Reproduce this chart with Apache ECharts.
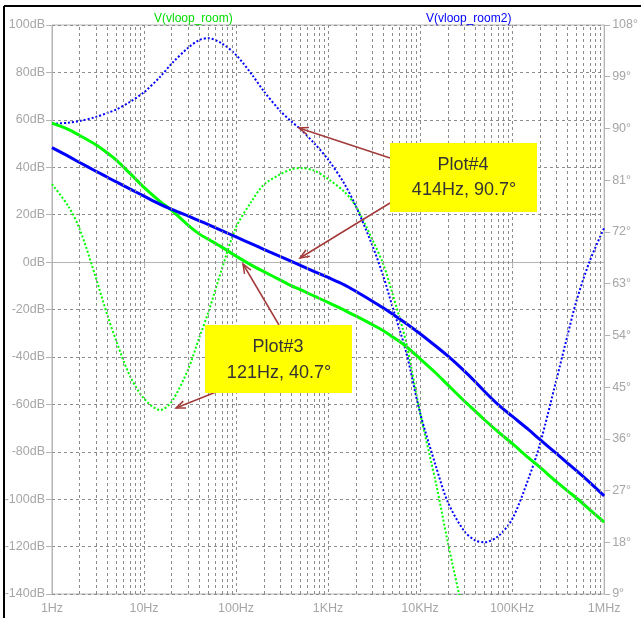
<!DOCTYPE html>
<html><head><meta charset="utf-8">
<script src="https://cdn.jsdelivr.net/npm/echarts@6/dist/echarts.min.js"></script>
<style>html,body{margin:0;padding:0;background:#fff}#c{width:641px;height:618px}</style>
</head><body><div id="c"></div>
<script>
// Frequencies (Hz)
const freqs = [1,1.5,2,3,4,5,7,10,15,20,30,40,50,70,100,150,200,300,400,500,700,
  1e3,1.5e3,2e3,3e3,4e3,5e3,7e3,1e4,1.5e4,2e4,3e4,4e4,5e4,7e4,1e5,1.5e5,2e5,3e5,4e5,5e5,7e5,1e6];
// V(vloop_room) magnitude (dB) - green solid
const magRoom = [58.6,56,53.4,49.5,46,43,37.5,31.5,25.5,21.8,15.6,11.8,9.6,6.3,2.5,-1.5,-4,-7.5,-10,-11.6,-14.3,
  -17,-20.3,-22.7,-26.3,-29,-31.5,-35.5,-40.8,-47,-51.8,-58.5,-63,-66.5,-71.5,-76.5,-82.5,-86.5,-92.5,-96.5,-99.5,-104.5,-109.7];
// V(vloop_room2) magnitude (dB) - blue solid
const magRoom2 = [48.3,44.7,42,38.3,35.8,33.8,30.9,27.8,24.3,22.2,19.5,17.4,15.8,13.3,10.6,7.6,5.4,2.4,0.3,-1.4,-3.9,
  -6.5,-9.6,-12.3,-16.4,-19.4,-21.9,-25.8,-30.2,-35.6,-39.6,-45.8,-50.6,-54.5,-60,-65,-70.6,-74.8,-80.6,-84.8,-88,-93,-98.6];
// V(vloop_room) phase (deg) - green dotted
const phaseRoom = [80.3,76.5,72.5,64,57.5,53,47,43,41,42.5,48,53.7,58,65.5,72.8,77.5,80.2,82,82.9,83.1,82.7,
  81.2,79,76.5,70.8,66.3,61.3,53,40.5,28,18,5,-5,-12,-22,-30,-38,-42,-48,-52,-55,-58,-60];
// V(vloop_room2) phase (deg) - blue dotted
const phaseRoom2 = [90.8,91.0,91.3,92.0,92.7,93.3,94.6,96.3,99,101.3,104,105.4,105.7,104.8,102.8,99.3,96.5,93.1,91.2,89.9,87.5,
  84.6,80.4,76.5,69.8,64.2,59,51.3,40.5,31,25,20,18.3,18,19,22,29,35,46,54,60,67,72.7];

const freqTickLabels = ['1Hz','10Hz','100Hz','1KHz','10KHz','100KHz','1MHz'];
const dbRange = [-140, 100, 20];
const degRange = [9, 108, 9];
const seriesNames = ['V(vloop_room)', 'V(vloop_room2)'];

// minor grid frequencies 2..9 per decade
const minorFreqs = [];
for (let d = 0; d < 6; d++) for (let m = 2; m <= 9; m++) minorFreqs.push(m * Math.pow(10, d));

const GREEN = '#00ff00', BLUE = '#0000ff', GRAY = '#a6a6a6', GRID = '#8c8c8c';
const FONT = 'Liberation Sans, Arial, sans-serif';
const pairs = arr => freqs.map((f, i) => [f, arr[i]]);

const chart = echarts.init(document.getElementById('c'), null, {renderer: 'canvas'});

const arrowColor = '#a33a3a';
function arrow(x1, y1, x2, y2) {
  const ang = Math.atan2(y1 - y2, x1 - x2), L = 10, a = 0.38;
  const p1 = [x2 + L * Math.cos(ang + a), y2 + L * Math.sin(ang + a)];
  const p2 = [x2 + L * Math.cos(ang - a), y2 + L * Math.sin(ang - a)];
  return [
    {type: 'line', z: 100, shape: {x1, y1, x2, y2}, style: {stroke: arrowColor, lineWidth: 1.5}},
    {type: 'polyline', z: 100, shape: {points: [p1, [x2, y2], p2]}, style: {stroke: arrowColor, lineWidth: 1.5, fill: null}}
  ];
}
function txt(t, x, y) {
  return {type: 'text', z: 102, style: {text: t, x, y, font: '18px ' + FONT, fill: '#333333',
    align: 'center', verticalAlign: 'middle', textAlign: 'center', textVerticalAlign: 'middle'}};
}

const option = {
  animation: false,
  backgroundColor: '#ffffff',
  title: [
    {text: seriesNames[0], left: 149, top: 8, textStyle: {color: '#00dd00', fontSize: 12, fontWeight: 'normal', fontFamily: FONT}},
    {text: seriesNames[1], left: 421, top: 8, textStyle: {color: BLUE, fontSize: 12, fontWeight: 'normal', fontFamily: FONT}}
  ],
  grid: {left: 52, right: 36, top: 25, bottom: 24, show: true, borderColor: '#b4b4b4', borderWidth: 1},
  xAxis: {
    type: 'log', logBase: 10, min: 1, max: 1e6, splitNumber: 6,
    axisLine: {lineStyle: {color: '#b4b4b4'}},
    axisTick: {show: true, length: 5, lineStyle: {color: '#b4b4b4'}},
    axisLabel: {color: GRAY, fontSize: 12.5, fontFamily: FONT, margin: 8,
      formatter: v => freqTickLabels[Math.round(Math.log10(v))]},
    splitLine: {show: true, lineStyle: {color: GRID, type: [3, 3], width: 1}}
  },
  yAxis: [
    {type: 'value', min: dbRange[0], max: dbRange[1], interval: dbRange[2], position: 'left',
      axisLine: {show: true, lineStyle: {color: '#b4b4b4'}},
      axisTick: {show: true, length: 6, lineStyle: {color: '#b4b4b4'}},
      axisLabel: {color: GRAY, fontSize: 12.5, fontFamily: FONT, margin: 7, formatter: '{value}dB'},
      splitLine: {show: true, lineStyle: {color: GRID, type: [3, 3], width: 1}}},
    {type: 'value', min: degRange[0], max: degRange[1], interval: degRange[2], position: 'right',
      axisLine: {show: true, lineStyle: {color: '#b4b4b4'}},
      axisTick: {show: true, length: 6, lineStyle: {color: '#b4b4b4'}},
      axisLabel: {color: GRAY, fontSize: 12.5, fontFamily: FONT, margin: 8, formatter: '{value}°'},
      splitLine: {show: false}}
  ],
  series: [
    {type: 'line', name: 'minor-grid', data: [], z: 1, silent: true,
      markLine: {silent: true, symbol: 'none', label: {show: false}, animation: false,
        lineStyle: {color: GRID, type: [3, 3], width: 1},
        data: minorFreqs.map(f => ({xAxis: f}))}},
    {type: 'line', name: seriesNames[0] + ' phase', data: pairs(phaseRoom), yAxisIndex: 1, showSymbol: false, smooth: 0.3, z: 3,
      lineStyle: {color: GREEN, width: 2, type: [2, 2]}},
    {type: 'line', name: seriesNames[1] + ' phase', data: pairs(phaseRoom2), yAxisIndex: 1, showSymbol: false, smooth: 0.3, z: 3,
      lineStyle: {color: BLUE, width: 2, type: [2, 2]}},
    {type: 'line', name: seriesNames[0], data: pairs(magRoom), yAxisIndex: 0, showSymbol: false, smooth: 0.3, z: 4,
      lineStyle: {color: GREEN, width: 3}},
    {type: 'line', name: seriesNames[1], data: pairs(magRoom2), yAxisIndex: 0, showSymbol: false, smooth: 0.3, z: 4,
      lineStyle: {color: BLUE, width: 3}}
  ],
  graphic: [
    {type: 'line', shape: {x1: 4, y1: 6, x2: 641, y2: 6}, style: {stroke: '#000', lineWidth: 2}},
    {type: 'line', shape: {x1: 4, y1: 6, x2: 4, y2: 618}, style: {stroke: '#000', lineWidth: 2}},
    ...arrow(390, 158, 299, 128),
    ...arrow(390, 203, 300, 258),
    ...arrow(279, 325, 243, 264),
    ...arrow(216, 392, 176, 408),
    {type: 'rect', z: 101, shape: {x: 390, y: 143, width: 147, height: 69}, style: {fill: '#ffff00'}},
    txt('Plot#4', 463, 165),
    txt('414Hz, 90.7°', 464, 190),
    {type: 'rect', z: 101, shape: {x: 205, y: 325, width: 147, height: 68}, style: {fill: '#ffff00'}},
    txt('Plot#3', 278, 347),
    txt('121Hz, 40.7°', 279, 373)
  ]
};
chart.setOption(option);
</script>
</body></html>
